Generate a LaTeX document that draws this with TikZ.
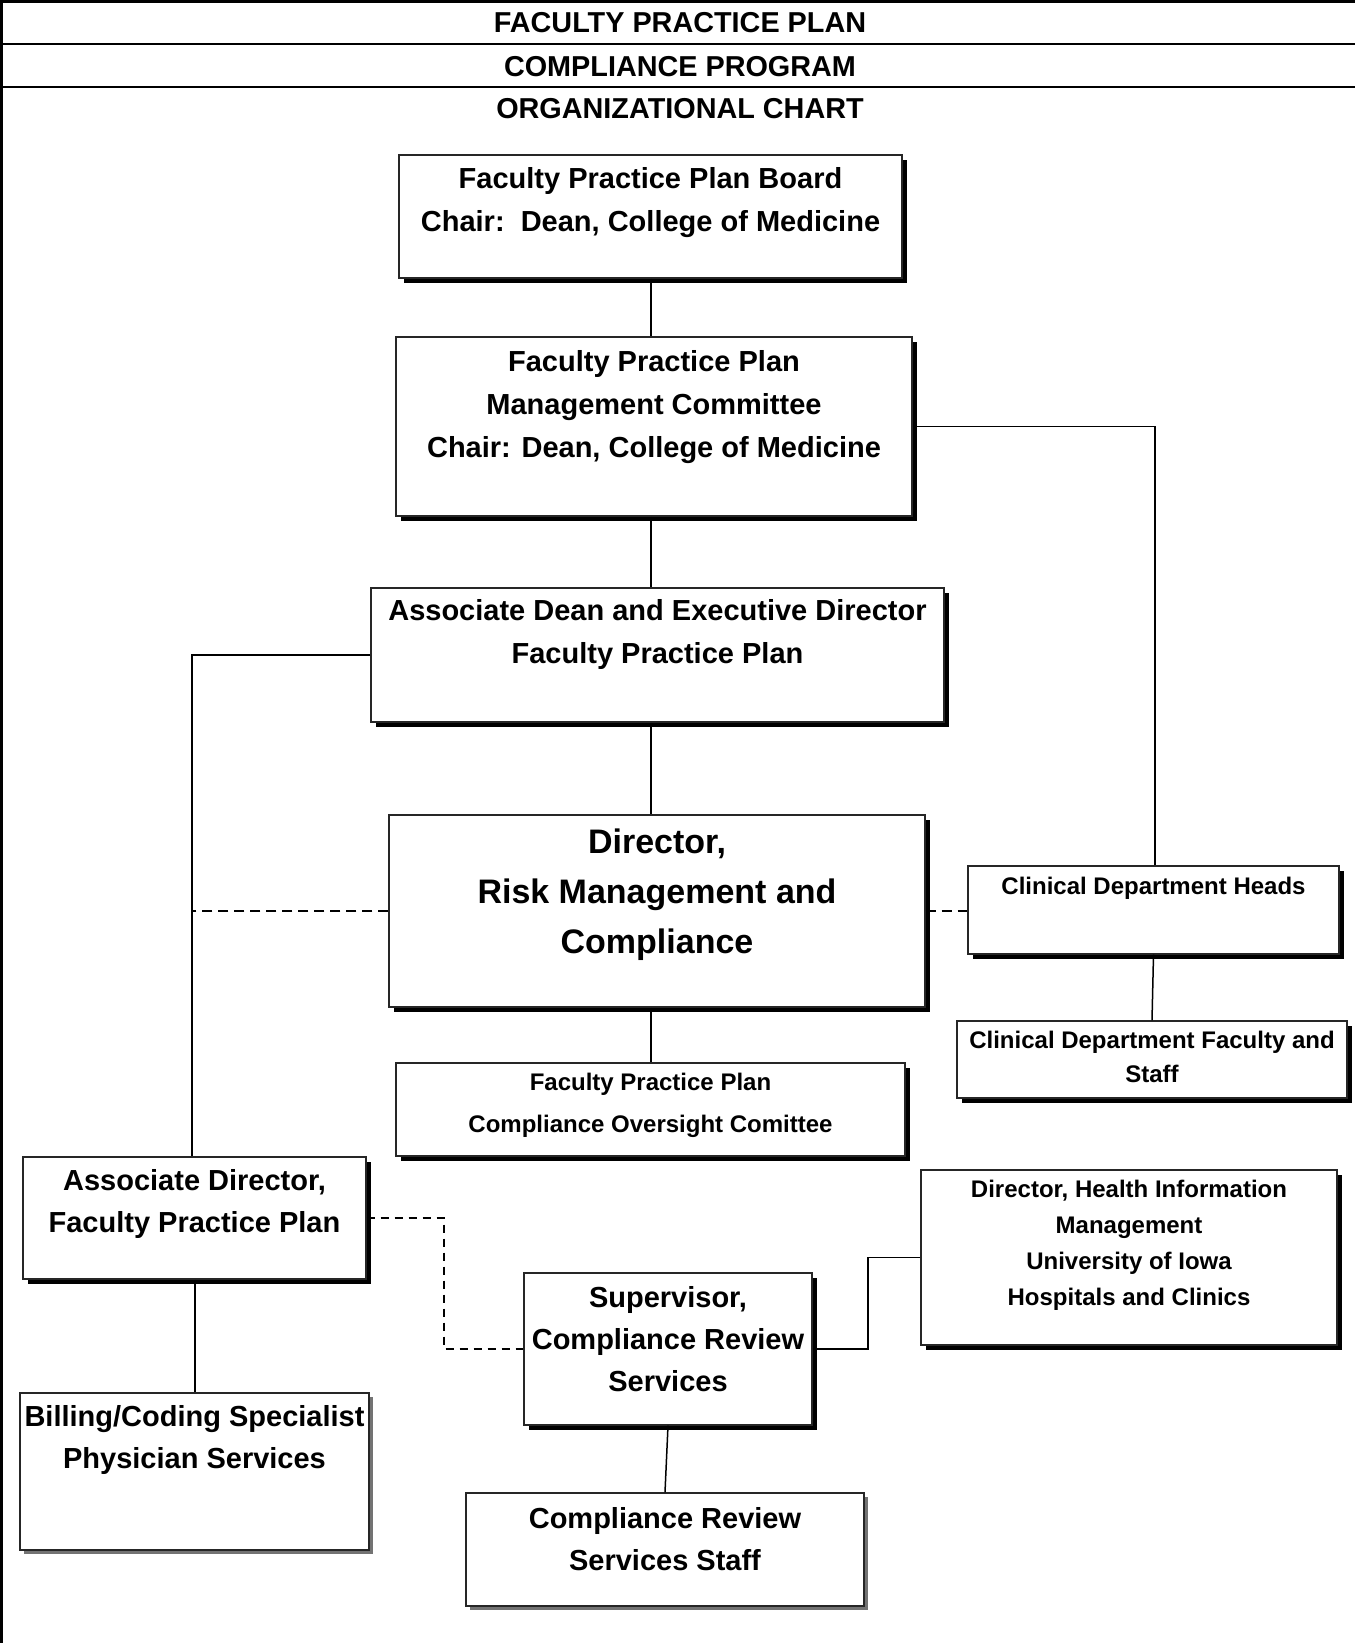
\documentclass[tikz,border=0pt]{standalone}
\usepackage{fontspec}
\setmainfont{Liberation Sans}
\usetikzlibrary{shadows}
\tikzset{
  box/.style={draw=black!85, line width=0.7pt, fill=white, rectangle, inner sep=0pt,
    drop shadow={shadow xshift=2.6pt, shadow yshift=-2.6pt, fill=black, opacity=1}},
  gbox/.style={draw=black!85, line width=0.7pt, fill=white, rectangle, inner sep=0pt,
    drop shadow={shadow xshift=2.2pt, shadow yshift=-2.2pt, fill=black!55, opacity=1}},
  big/.style={anchor=base, align=center, inner sep=0pt, font=\fontsize{14.5}{21.5}\selectfont\bfseries},
  huge/.style={anchor=base, align=center, inner sep=0pt, font=\fontsize{17}{25}\selectfont\bfseries},
  small/.style={anchor=base, align=center, inner sep=0pt, font=\fontsize{12}{21}\selectfont\bfseries},
  conn/.style={line width=0.75pt, black},
  dconn/.style={line width=0.75pt, black, dash pattern=on 5pt off 3pt},
  dconnb/.style={line width=1pt, black, dash pattern=on 4pt off 3pt},
  rule/.style={line width=1pt, black}
}
\begin{document}
\begin{tikzpicture}[x=0.5pt, y=-0.5pt]
\useasboundingbox (0,0) rectangle (1355,1643);
% page frame
\coordinate (tl) at (0,1.5);
\coordinate (tr) at (1355,1.5);
\draw[line width=1.5pt] (tl) -- (tr);
\coordinate (lt) at (1.5,0);
\coordinate (lb) at (1.5,1643);
\draw[line width=1.5pt] (lt) -- (lb);
\coordinate (r1l) at (0,44);
\coordinate (r1r) at (1355,44);
\draw[rule] (r1l) -- (r1r);
\coordinate (r2l) at (0,87);
\coordinate (r2r) at (1355,87);
\draw[rule] (r2l) -- (r2r);
% header texts
\node[big, font=\fontsize{14.4}{21}\selectfont\bfseries] (h1) at (680,33) {FACULTY PRACTICE PLAN};
\node[big, font=\fontsize{14.4}{21}\selectfont\bfseries] (h2) at (680,76) {COMPLIANCE PROGRAM};
\node[big, font=\fontsize{14.4}{21}\selectfont\bfseries] (h3) at (680,119) {ORGANIZATIONAL CHART};

% boxes
\node[box, minimum width=251.5pt, minimum height=61.5pt] (b1) at (650.5,216.5) {};
\node[box, minimum width=258pt, minimum height=89.5pt] (b2) at (654,426.5) {};
\node[box, minimum width=286.5pt, minimum height=67pt] (b3) at (657.5,655) {};
\node[box, minimum width=268pt, minimum height=96pt] (b4) at (657,911) {};
\node[box, minimum width=254.5pt, minimum height=46.5pt] (b5) at (650.5,1109.5) {};
\node[box, minimum width=185.5pt, minimum height=44pt] (b6) at (1153.5,910) {};
\node[box, minimum width=195pt, minimum height=38.5pt] (b7) at (1152,1059.5) {};
\node[box, minimum width=171.5pt, minimum height=61pt] (b8) at (194.5,1218) {};
\node[gbox, minimum width=174.5pt, minimum height=78.5pt] (b9) at (194.5,1471.5) {};
\node[box, minimum width=208pt, minimum height=87.5pt] (b10) at (1129,1257.5) {};
\node[box, minimum width=144pt, minimum height=76pt] (b11) at (668,1349) {};
\node[gbox, minimum width=199pt, minimum height=56.5pt] (b12) at (665,1549.5) {};

% texts (anchor = baseline of the last line)
\node[big] (t1) at (650.5,231) {Faculty Practice Plan Board\\Chair:\ \ Dean, College of Medicine};
\node[big] (t2) at (654,457) {Faculty Practice Plan\\Management Committee\\Chair: Dean, College of Medicine};
\node[big] (t3) at (657.5,663) {Associate Dean and Executive Director\\Faculty Practice Plan};
\node[huge] (t4) at (657,953) {Director,\\Risk Management and\\Compliance};
\node[small] (t5) at (650.5,1132) {Faculty Practice Plan\\Compliance Oversight Comittee};
\node[small] (t6) at (1153.5,894) {Clinical Department Heads};
\node[small, font=\fontsize{12}{17.3}\selectfont\bfseries] (t7) at (1152,1082.6) {Clinical Department Faculty and\\Staff};
\node[big, font=\fontsize{14.5}{21}\selectfont\bfseries] (t8) at (194.5,1232) {Associate Director,\\Faculty Practice Plan};
\node[big, font=\fontsize{14.5}{21}\selectfont\bfseries] (t9) at (194.5,1468) {Billing/Coding Specialist\\Physician Services};
\node[small, font=\fontsize{12}{18}\selectfont\bfseries] (t10) at (1129,1305) {Director, Health Information\\Management\\University of Iowa\\Hospitals and Clinics};
\node[big, font=\fontsize{14.5}{21.2}\selectfont\bfseries] (t11) at (668,1391.8) {Supervisor,\\Compliance Review\\Services};
\node[big, font=\fontsize{14.5}{21}\selectfont\bfseries] (t12) at (665,1570) {Compliance Review\\Services Staff};

% connectors
\coordinate (spine) at (651,0);
\draw[conn] (spine |- b1.south) -- (spine |- b2.north);
\draw[conn] (spine |- b2.south) -- (spine |- b3.north);
\draw[conn] (spine |- b3.south) -- (spine |- b4.north);
\draw[conn] (spine |- b4.south) -- (spine |- b5.north);
\coordinate (rspine) at (1155,0);
\draw[conn] (b2.east) -- (rspine |- b2.east) -- (rspine |- b6.north);
\coordinate (lspine) at (192,0);
\draw[conn] (b3.west) -- (lspine |- b3.west) -- (lspine |- b8.north);
\draw[dconn] (b4.west) -- (lspine |- b4.west);
\draw[dconn] (b4.east) -- (b4.east -| b6.west);
\draw[conn] (b6.south) -- (b7.north);
\coordinate (bspine) at (195,0);
\draw[conn] (bspine |- b8.south) -- (bspine |- b9.north);
\coordinate (dspine) at (444,0);
\draw[dconnb] (b8.east) -- (dspine |- b8.east) -- (dspine |- b11.west) -- (b11.west);
\coordinate (hspine) at (868,0);
\draw[conn] (b11.east) -- (hspine |- b11.east) -- (hspine |- b10.west) -- (b10.west);
\draw[conn] (b11.south) -- (b12.north);
\end{tikzpicture}
\end{document}
